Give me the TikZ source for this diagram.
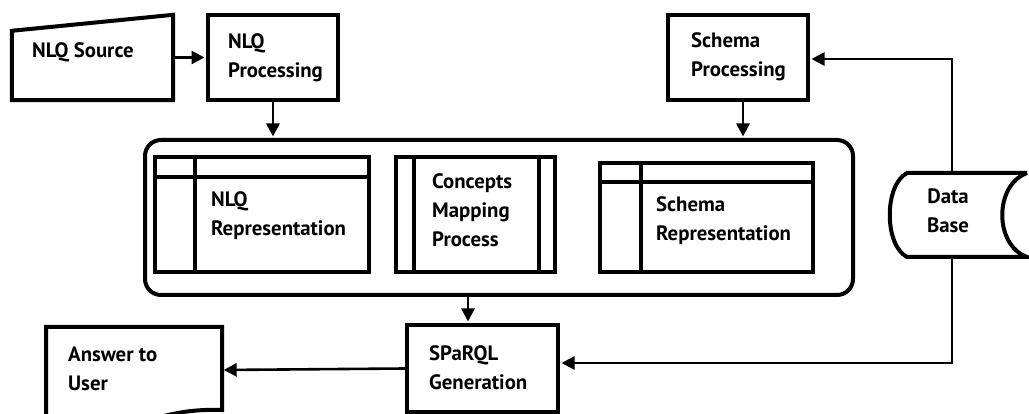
\documentclass[tikz,border=0pt]{standalone}
\usepackage{fontspec}
\setmainfont{PT Sans}
\usetikzlibrary{arrows.meta}

% multi-line label whose baseline is that of its first line
\newcommand\tstack[1]{\begin{tabular}[t]{@{}l@{}}#1\end{tabular}}
\newcommand\cstack[1]{\begin{tabular}[t]{@{}c@{}}#1\end{tabular}}

\begin{document}
\begin{tikzpicture}[x=1pt,y=-1pt,
  box/.style={draw, line width=4pt, inner sep=0pt},
  frame/.style={draw=none, inner sep=0pt},
  bar/.style={line width=4pt},
  lbl/.style={inner sep=0pt, anchor=base west, font=\bfseries\fontsize{20.8}{29}\selectfont},
  arr/.style={line width=2.6pt, shorten >=1.5pt, -{Triangle[length=13pt,width=13pt]}}]

\useasboundingbox (0,0) rectangle (1029,414);

% NLQ source (manual input)
\node[frame, minimum width=161pt, minimum height=85pt] (src) at (92.5,57.5) {};
\draw[line width=4pt, line join=miter]
  (src.south west) -- ([yshift=-16pt]src.north west) -- (src.north east) -- (src.south east) -- cycle;
\node[lbl] (srct) at (32,58) {NLQ Source};

% processing steps
\node[box, minimum width=130pt, minimum height=85pt] (nlqp) at (273,57.5) {};
\node[lbl] (nlqpt) at (228,49) {\tstack{NLQ\\Processing}};

\node[box, minimum width=140pt, minimum height=85pt] (schp) at (738,57.5) {};
\node[lbl] (schpt) at (691,48) {\tstack{Schema\\Processing}};

% mapping container
\node[box, rounded corners=16pt, minimum width=708pt, minimum height=155pt] (big) at (499,217.5) {};

\node[box, minimum width=214pt, minimum height=115pt] (nlqr) at (262,214.5) {};
\draw[bar] ([xshift=42pt]nlqr.north west) -- ([xshift=42pt]nlqr.south west);
\draw[bar] ([yshift=-22pt]nlqr.north west) -- ([yshift=-22pt]nlqr.north east);
\node[lbl] (nlqrt) at (211,207) {\tstack{NLQ\\Representation}};

\node[box, minimum width=159pt, minimum height=115pt] (cmp) at (475.5,214.5) {};
\draw[bar] ([xshift=20pt]cmp.north west) -- ([xshift=20pt]cmp.south west);
\draw[bar] ([xshift=-18pt]cmp.north east) -- ([xshift=-18pt]cmp.south east);
\node[lbl] (cmpt) at (432,189) {\tstack{Concepts\\Mapping\\Process}};

\node[box, minimum width=213pt, minimum height=109pt] (schr) at (706.5,217.5) {};
\draw[bar] ([xshift=43pt]schr.north west) -- ([xshift=43pt]schr.south west);
\draw[bar] ([yshift=-21pt]schr.north west) -- ([yshift=-21pt]schr.north east);
\node[lbl] (schrt) at (656,212) {\tstack{Schema\\Representation}};

% data base (stored data)
\node[frame, minimum width=137pt, minimum height=84pt] (db) at (958.5,215) {};
\draw[line width=4pt]
  (1027,173) -- (907,173) .. controls (884,185) and (884,245) .. (907,257)
  -- (1027,257) .. controls (994,245) and (994,185) .. (1027,173);
\node[lbl, anchor=base] (dbt) at (948,204) {\cstack{Data\\Base}};

% query generation
\node[box, minimum width=151pt, minimum height=87pt] (sparql) at (482.5,368.5) {};
\node[lbl] (sparqlt) at (429,360) {\tstack{SPaRQL\\Generation}};

% answer (document)
\node[frame, minimum width=176pt, minimum height=86pt] (ans) at (134,370) {};
\draw[line width=4pt, line join=miter]
  (46,440) -- (46,327) -- (222,327) -- (222,410)
  .. controls (190,409) and (160,413) .. (110,436);
\node[lbl] (anst) at (68,361) {\tstack{Answer to\\User}};

% connectors
\draw[arr] (src.east) -- (nlqp.west);
\draw[arr] (nlqp.south) -- (nlqp.south |- big.north);
\draw[arr] ([xshift=5pt]schp.south) -- ([xshift=5pt]schp.south |- big.north);
\draw[arr] ([xshift=-14.5pt]sparql.north |- big.south) -- ([xshift=-14.5pt]sparql.north);
\draw[arr] (sparql.west) -- (ans.east);
\draw[arr] ([xshift=-6.5pt]db.north) |- ([yshift=-1.5pt]schp.east);
\draw[arr] ([xshift=-6.5pt]db.south) |- ([yshift=5.5pt]sparql.east);
\end{tikzpicture}
\end{document}
